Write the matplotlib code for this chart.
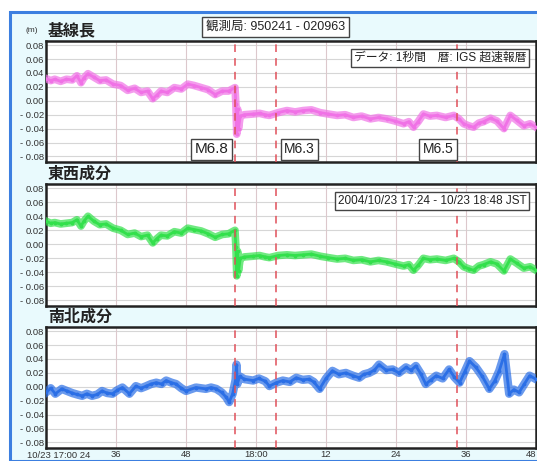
import numpy as np
import matplotlib
matplotlib.use("Agg")
import matplotlib.pyplot as plt
from matplotlib.patches import Rectangle

plt.rcParams['font.family'] = ['Liberation Sans', 'Noto Sans CJK JP', 'DejaVu Sans']

# minutes after 10/23 17:24 JST
bl_t = [0, 0.8, 1.5, 2.5, 3.5, 4.5, 5.3, 6.0, 6.5, 7.2, 8.2, 9.2, 10.3, 11.5, 12.8, 14, 15.2,
        16.3, 17.4, 18.3, 19.0, 19.7, 20.8, 22, 23.2, 24.3, 25.4, 26.6, 27.8, 29, 30.2, 31.3,
        32.4, 32.55, 32.7, 32.85, 33.0, 33.3, 34, 35.5, 36.6, 37.6, 38.3, 39.8, 41.3, 42.7,
        44.1, 45.5, 47, 48.4, 49.9, 51.3, 52.7, 54.1, 55.6, 57, 58.4, 59.8, 61.3, 62.2, 63,
        63.8, 64.7, 65.8, 67, 68.5, 69.9, 70.8, 71.6, 72.5, 73.3, 74.2, 75, 76.2, 77.3, 78.5,
        79.6, 80.7, 81.9, 83, 84]
bl_v = [0.032, 0.029, 0.031, 0.028, 0.031, 0.030, 0.036, 0.026, 0.033, 0.039, 0.034, 0.029,
        0.030, 0.024, 0.022, 0.015, 0.018, 0.012, 0.014, 0.003, 0.008, 0.014, 0.012, 0.019,
        0.017, 0.024, 0.022, 0.019, 0.016, 0.009, 0.014, 0.014, 0.019, -0.005, -0.048, -0.012,
        -0.040, -0.022, -0.020, -0.019, -0.018, -0.020, -0.021, -0.017, -0.014, -0.016, -0.014,
        -0.013, -0.017, -0.019, -0.021, -0.020, -0.024, -0.022, -0.026, -0.024, -0.026, -0.029,
        -0.033, -0.030, -0.038, -0.030, -0.019, -0.022, -0.021, -0.024, -0.021, -0.026, -0.033,
        -0.036, -0.038, -0.032, -0.030, -0.025, -0.029, -0.040, -0.021, -0.028, -0.036, -0.033,
        -0.038]

ew_t = bl_t
ew_v = [0.033, 0.030, 0.031, 0.029, 0.030, 0.031, 0.035, 0.026, 0.033, 0.040, 0.033, 0.028,
        0.029, 0.023, 0.020, 0.014, 0.016, 0.011, 0.013, 0.002, 0.008, 0.013, 0.012, 0.018,
        0.016, 0.023, 0.021, 0.019, 0.015, 0.010, 0.014, 0.015, 0.020, -0.004, -0.045, -0.010,
        -0.038, -0.020, -0.018, -0.017, -0.016, -0.018, -0.019, -0.016, -0.015, -0.016, -0.015,
        -0.014, -0.017, -0.019, -0.021, -0.020, -0.023, -0.022, -0.025, -0.023, -0.025, -0.028,
        -0.031, -0.029, -0.037, -0.030, -0.020, -0.022, -0.021, -0.023, -0.020, -0.025, -0.032,
        -0.035, -0.037, -0.031, -0.029, -0.025, -0.028, -0.038, -0.021, -0.027, -0.034, -0.032,
        -0.037]

ns_t = [0, 0.8, 1.6, 2.7, 3.6, 4.5, 5.3, 6.2, 7.0, 7.9, 8.8, 9.6, 10.5, 11.4, 12.2, 13.1, 14.3,
        15.4, 16.3, 17.2, 18.0, 18.9, 19.8, 20.6, 21.5, 22.3, 23.2, 24, 25.7, 27.4, 28.3, 29.2,
        30.1, 30.9, 31.4, 32.0, 32.5, 32.65, 32.8, 33.2, 34, 35.5, 36.5, 37.6, 38.3, 39.5, 40.6,
        41.8, 42.9, 44, 45.1, 45.9, 46.9, 48, 49.1, 50.2, 51.4, 52.6, 53.7, 54.5, 55.4, 56.3,
        57.1, 58.3, 59.4, 60.5, 61.7, 62.6, 63.4, 64.3, 65.1, 66, 66.9, 68, 69.1, 70, 70.9, 71.8,
        72.6, 73.7, 74.8, 76, 76.9, 77.7, 78.6, 79.4, 80.2, 81.1, 82, 82.9, 84]
ns_v = [-0.008, -0.002, -0.010, -0.003, -0.006, -0.009, -0.011, -0.013, -0.010, -0.013, -0.011,
        -0.006, -0.009, -0.010, -0.005, -0.001, -0.010, 0.001, -0.002, 0.001, 0.004, 0.006,
        0.004, 0.009, 0.006, 0.004, -0.002, -0.006, -0.001, -0.003, -0.001, -0.003, -0.008,
        -0.015, -0.022, -0.010, 0.010, 0.032, 0.004, 0.015, 0.011, 0.009, 0.012, 0.008, 0.001,
        0.006, 0.009, 0.007, 0.013, 0.010, 0.011, 0.007, -0.003, 0.012, 0.023, 0.018, 0.020,
        0.016, 0.013, 0.018, 0.020, 0.024, 0.032, 0.024, 0.025, 0.020, 0.028, 0.024, 0.030,
        0.018, 0.004, 0.010, 0.016, 0.012, 0.025, 0.014, 0.006, 0.022, 0.037, 0.028, 0.015,
        -0.003, 0.008, 0.023, 0.047, -0.010, -0.004, -0.008, 0.004, 0.016, 0.011]

quake_t = [32.4, 39.4, 70.4]
quake_lbl = ["M6.8", "M6.3", "M6.5"]

x_ticks = [12, 24, 36, 48, 60, 72, 84]
x_labels = ["36", "48", "18:00", "12", "24", "36", "48"]
y_ticks = [0.08, 0.06, 0.04, 0.02, 0.0, -0.02, -0.04, -0.06, -0.08]

titles = ["基線長", "東西成分", "南北成分"]
colors = ["#f072e6", "#33e04c", "#2b6fe6"]
series = [(bl_t, bl_v), (ew_t, ew_v), (ns_t, ns_v)]

W, H = 537, 461
fig = plt.figure(figsize=(W / 100, H / 100), dpi=100)
fig.patch.set_facecolor("white")
bg = Rectangle((10 / W, 0), 1, 1 - 12 / H, transform=fig.transFigure,
               facecolor="#e9fafd", edgecolor="#3c7fe0", linewidth=2.2, zorder=-5)
fig.patches.append(bg)


def ylab(v):
    if v < 0:
        return "- %.2f" % abs(v)
    return "%.2f" % v


# (top, bottom) in pixels
boxes = [(41, 162), (184, 306), (327, 448)]
axes = []
for i, (top, bot) in enumerate(boxes):
    ax = fig.add_axes([46 / W, 1 - bot / H, 490 / W, (bot - top) / H])
    ax.set_facecolor("white")
    t, v = series[i]
    ax.plot(t, v, color=colors[i], lw=6 if i == 2 else 5.5, alpha=0.7, zorder=3)
    ax.plot(t, v, color=colors[i], lw=2, zorder=3)
    ax.plot(t, v, ".", color=colors[i], ms=3.5, zorder=3)
    ax.set_xlim(0, 84)
    ax.set_ylim(-0.088, 0.086)
    ax.set_yticks(y_ticks)
    ax.set_yticklabels([ylab(v) for v in y_ticks], fontsize=6.8, color="#333333")
    ax.set_xticks(x_ticks)
    if i == 2:
        labs = ax.set_xticklabels(x_labels, fontsize=6.8, color="#333333")
        labs[-1].set_ha("right")
    else:
        ax.set_xticklabels([])
    ax.tick_params(length=0, pad=1.5)
    for ty in y_ticks:
        ax.axhline(ty, color="#d6d6d6", lw=0.8, zorder=1)
    for tx in x_ticks[:-1]:
        ax.axvline(tx, color="#dcc8cc", lw=0.8, zorder=1)
    for q in quake_t:
        ax.axvline(q, color="#e0505a", lw=1.1, ls=(0, (5, 4)), zorder=4)
    for s in ax.spines.values():
        s.set_linewidth(1.8)
        s.set_color("#222222")
    ax.text(2 / 490, 1 + 10 / (bot - top), titles[i], transform=ax.transAxes,
            fontsize=11.5, fontweight="bold", color="#222222", va="center", ha="left")
    axes.append(ax)

box = dict(boxstyle="square,pad=0.25", facecolor="white", edgecolor="#444444", lw=1)

fig.text(25 / W, 1 - 30 / H, "(m)", fontsize=6, color="#333333", va="center")
fig.text(206 / W, 1 - 27 / H, "観測局: 950241 - 020963", fontsize=9, va="center",
         color="#222222", bbox=dict(boxstyle="square,pad=0.3", facecolor="white",
                                     edgecolor="#444444", lw=1))
fig.text(27 / W, 1 - 455 / H, "10/23 17:00 24", fontsize=6.8, color="#333333", va="center")

ax1 = axes[0]
ax1.text(0.98, 0.86, "データ: 1秒間　暦: IGS 超速報暦", transform=ax1.transAxes,
         ha="right", va="center", fontsize=8.5, color="#222222", bbox=box, zorder=6)
ax1.text(quake_t[0] - 1.1, -0.07, quake_lbl[0], ha="right", va="center", fontsize=11,
         color="#222222", bbox=box, zorder=6)
ax1.text(quake_t[1] + 1.4, -0.07, quake_lbl[1], ha="left", va="center", fontsize=10,
         color="#222222", bbox=box, zorder=6)
ax1.text(quake_t[2] - 0.6, -0.07, quake_lbl[2], ha="right", va="center", fontsize=10,
         color="#222222", bbox=box, zorder=6)

ax2 = axes[1]
ax2.text(0.98, 0.86, "2004/10/23 17:24 - 10/23 18:48 JST", transform=ax2.transAxes,
         ha="right", va="center", fontsize=8.5, color="#222222", bbox=box, zorder=6)

fig.savefig("out.png", dpi=100)
